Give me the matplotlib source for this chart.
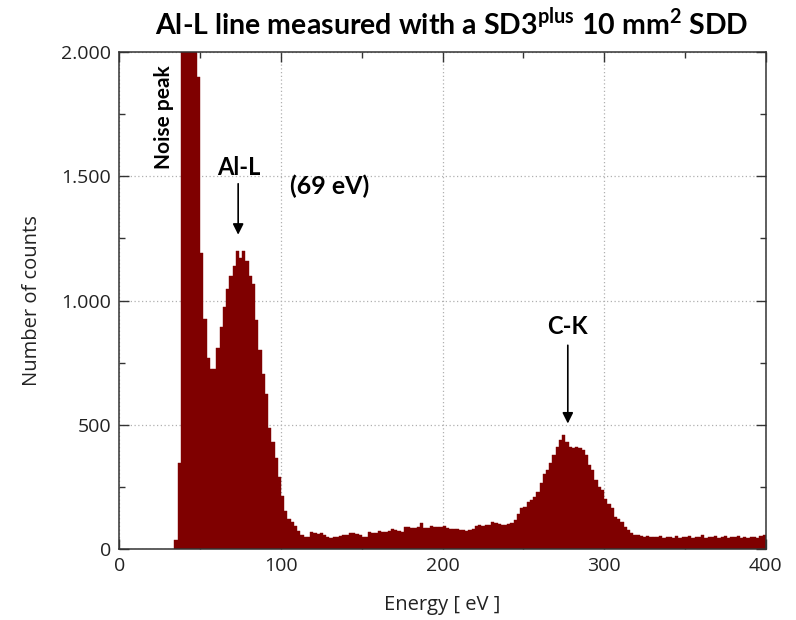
import numpy as np
import matplotlib
matplotlib.use("Agg")
import matplotlib.pyplot as plt
from matplotlib.ticker import MultipleLocator, FuncFormatter

plt.rcParams["mathtext.fontset"] = "custom"
plt.rcParams["mathtext.rm"] = "Lato"
plt.rcParams["mathtext.bf"] = "Lato:bold"

# ---- data (2 eV bins, left edges from 34 eV) ----
bin_start = 34
bin_width = 2
counts = [
    # 34 .. 110 eV (noise peak + Al-L)
    36, 346, 2600, 3000, 3000, 2800, 2300, 1900, 1190, 925,
    769, 724, 724, 808, 893, 974, 1046, 1100, 1140, 1200,
    1170, 1200, 1160, 1100, 1066, 921, 801, 704, 624, 487,
    430, 366, 290, 213, 153, 121, 109, 93, 72,
    # 112 .. 234 eV (background)
    58, 50, 48, 68, 65, 60, 63, 55, 47, 44,
    50, 50, 52, 55, 55, 63, 63, 60, 58, 50,
    50, 68, 64, 64, 72, 70, 68, 74, 80, 75,
    72, 67, 88, 88, 85, 86, 90, 103, 85, 86,
    94, 88, 90, 88, 92, 86, 82, 80, 80, 78,
    78, 74, 78, 82, 92, 95, 92, 95, 97, 108,
    104, 100,
    # 236 .. 318 eV (C-K)
    95, 95, 100, 105, 117, 140, 165, 170, 190, 197,
    210, 230, 265, 300, 320, 345, 377, 411, 438, 460,
    430, 411, 406, 411, 406, 400, 378, 340, 318, 278,
    250, 237, 200, 180, 165, 130, 120, 109, 89, 75,
    65, 56,
    # 320 .. 398 eV (tail)
    55, 52, 50, 54, 48, 50, 47, 52, 45, 48,
    50, 46, 52, 44, 50, 48, 53, 45, 50, 47,
    55, 43, 50, 48, 52, 46, 50, 53, 45, 49,
    47, 52, 46, 50, 44, 48, 50, 46, 52, 58,
]
energies = bin_start + bin_width * np.arange(len(counts))

title_main = r"Al-L line measured with a SD3$^{\mathbf{plus}}$ 10 mm$^{\mathbf{2}}$ SDD"
x_label = "Energy [ eV ]"
y_label = "Number of counts"

bar_color = "#7f0000"
tick_font = "Open Sans"
bold_font = "Lato"

fig = plt.figure(figsize=(7.96, 6.2), dpi=100)
ax = fig.add_axes([0.150, 0.1145, 0.812, 0.8015])

ax.bar(energies, counts, width=bin_width, align="edge", color=bar_color,
       edgecolor=bar_color, linewidth=0.3)

ax.set_xlim(0, 400)
ax.set_ylim(0, 2000)
ax.xaxis.set_major_locator(MultipleLocator(100))
ax.xaxis.set_minor_locator(MultipleLocator(50))
ax.yaxis.set_major_locator(MultipleLocator(500))
ax.yaxis.set_minor_locator(MultipleLocator(250))
ax.yaxis.set_major_formatter(FuncFormatter(lambda v, p: f"{int(v):,}".replace(",", ".")))

ax.tick_params(which="both", direction="in", top=True, right=True, color="#333333")
ax.tick_params(which="major", length=7, width=1, labelsize=14, pad=6)
ax.tick_params(which="minor", length=4, width=1)
for lab in ax.get_xticklabels() + ax.get_yticklabels():
    lab.set_family(tick_font)
    lab.set_color("#222222")

ax.set_axisbelow(True)
ax.grid(which="major", linestyle=(0, (1, 2)), color="#b0b0b0", linewidth=0.9)
for s in ax.spines.values():
    s.set_color("#333333")
    s.set_linewidth(1.1)

ax.set_xlabel(x_label, family=tick_font, fontsize=14.5, color="#222222", labelpad=14)
ax.set_ylabel(y_label, family=tick_font, fontsize=14.5, color="#222222", labelpad=14)

fig.text(0.567, 0.962, title_main, ha="center", va="center",
         family=bold_font, fontweight="bold", fontsize=20.5)

# annotations
ax.text(27.5, 1740, "Noise peak", rotation=90, ha="center", va="center",
        family=bold_font, fontweight="bold", fontsize=15)
ax.text(74, 1535, "Al-L", ha="center", va="center",
        family=bold_font, fontweight="bold", fontsize=17)
ax.text(130, 1460, "(69 eV)", ha="center", va="center",
        family=bold_font, fontweight="bold", fontsize=18)
ax.text(277.5, 895, "C-K", ha="center", va="center",
        family=bold_font, fontweight="bold", fontsize=17)

ax.annotate("", xy=(73.5, 1265), xytext=(73.5, 1470),
            arrowprops=dict(arrowstyle="-|>", color="black", lw=1.2,
                            mutation_scale=16, shrinkA=0, shrinkB=0))
ax.annotate("", xy=(277.5, 505), xytext=(277.5, 820),
            arrowprops=dict(arrowstyle="-|>", color="black", lw=1.2,
                            mutation_scale=16, shrinkA=0, shrinkB=0))

fig.savefig("out.png", dpi=100)
